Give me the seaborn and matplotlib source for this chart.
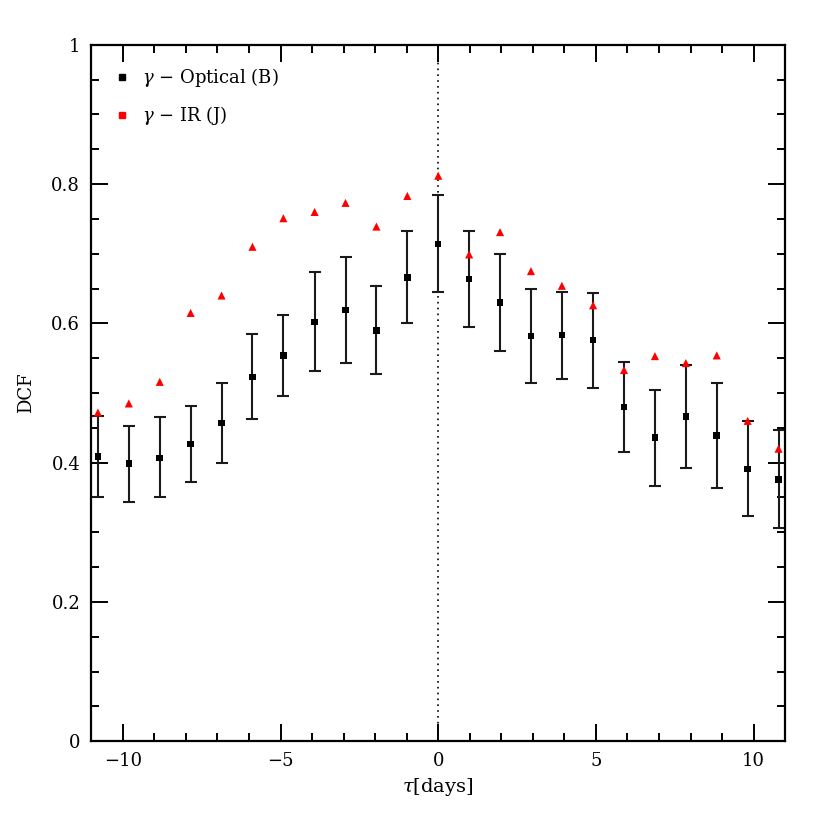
import numpy as np
import pandas as pd
import seaborn as sns
import matplotlib.pyplot as plt
from matplotlib.lines import Line2D
from matplotlib.ticker import MultipleLocator

# lag bins (days)
tau = [-10.79, -9.81, -8.83, -7.85, -6.87, -5.89, -4.91, -3.92, -2.94, -1.96, -0.98, 0.0,
       0.98, 1.96, 2.94, 3.92, 4.91, 5.89, 6.87, 7.85, 8.83, 9.81, 10.79]

# gamma - optical (B) DCF with error bars
dcf_opt = [0.409, 0.399, 0.407, 0.427, 0.457, 0.523, 0.554, 0.602, 0.619, 0.590, 0.666, 0.714,
           0.664, 0.630, 0.582, 0.583, 0.576, 0.480, 0.436, 0.466, 0.439, 0.391, 0.376]
err_hi = [0.467, 0.453, 0.465, 0.482, 0.515, 0.585, 0.612, 0.674, 0.696, 0.654, 0.732, 0.785,
          0.733, 0.699, 0.650, 0.645, 0.644, 0.545, 0.505, 0.540, 0.515, 0.460, 0.447]
err_lo = [0.350, 0.344, 0.350, 0.372, 0.400, 0.462, 0.495, 0.531, 0.543, 0.528, 0.600, 0.645,
          0.595, 0.560, 0.515, 0.520, 0.507, 0.415, 0.367, 0.392, 0.364, 0.324, 0.306]

# gamma - IR (J) DCF
dcf_ir = [0.472, 0.485, 0.516, 0.615, 0.640, 0.710, 0.751, 0.760, 0.773, 0.739, 0.783, 0.812,
          0.699, 0.731, 0.675, 0.654, 0.626, 0.533, 0.553, 0.543, 0.554, 0.460, 0.420]

df = pd.DataFrame({'tau': tau, 'opt': dcf_opt, 'ir': dcf_ir, 'hi': err_hi, 'lo': err_lo})

sns.set_style('ticks')
plt.rcParams['font.family'] = ['DejaVu Serif']
plt.rcParams['mathtext.fontset'] = 'dejavuserif'
plt.rcParams['text.color'] = 'black'
plt.rcParams['axes.labelcolor'] = 'black'
plt.rcParams['xtick.color'] = 'black'
plt.rcParams['ytick.color'] = 'black'
plt.rcParams['axes.edgecolor'] = 'black'

fig = plt.figure(figsize=(8.3, 8.3), dpi=100)
ax = fig.add_axes([0.110, 0.107, 0.836, 0.839])

ax.axvline(0, color='black', linestyle=(0, (1, 2.5)), linewidth=1.2, zorder=1)

ax.errorbar(df['tau'], df['opt'],
            yerr=[df['opt'] - df['lo'], df['hi'] - df['opt']],
            fmt='none', ecolor='#1a1a1a', elinewidth=1.5, capsize=4, capthick=1.5, zorder=2)
sns.scatterplot(x='tau', y='opt', data=df, ax=ax, marker='s', color='black', s=22,
                edgecolor='none', zorder=3)
sns.scatterplot(x='tau', y='ir', data=df, ax=ax, marker='^', color='red', s=34,
                edgecolor='none', zorder=4)

ax.set_xlim(-11, 11)
ax.set_ylim(0, 1)
ax.xaxis.set_major_locator(MultipleLocator(5))
ax.xaxis.set_minor_locator(MultipleLocator(1))
ax.yaxis.set_major_locator(MultipleLocator(0.2))
ax.yaxis.set_minor_locator(MultipleLocator(0.05))
ax.set_yticks([0, 0.2, 0.4, 0.6, 0.8, 1.0])
ax.set_yticklabels(['0', '0.2', '0.4', '0.6', '0.8', '1'])
ax.tick_params(which='both', direction='in', top=True, right=True, labelsize=13, width=1.4)
ax.tick_params(which='major', length=12, pad=8)
ax.tick_params(which='minor', length=6)
for s in ax.spines.values():
    s.set_linewidth(1.6)
    s.set_color('black')

ax.set_xlabel(r'$\tau$[days]', fontsize=14, labelpad=4)
ax.set_ylabel('DCF', fontsize=13, labelpad=12)

handles = [Line2D([], [], marker='s', color='black', linestyle='none', markersize=4),
           Line2D([], [], marker='s', color='red', linestyle='none', markersize=4)]
ax.legend(handles, [r'$\gamma$ $-$ Optical (B)', r'$\gamma$ $-$ IR (J)'],
          loc='upper left', frameon=False, fontsize=13, handletextpad=0.6,
          borderaxespad=0.8, labelspacing=0.8, handlelength=1.0)

plt.savefig('out.png', dpi=100)
